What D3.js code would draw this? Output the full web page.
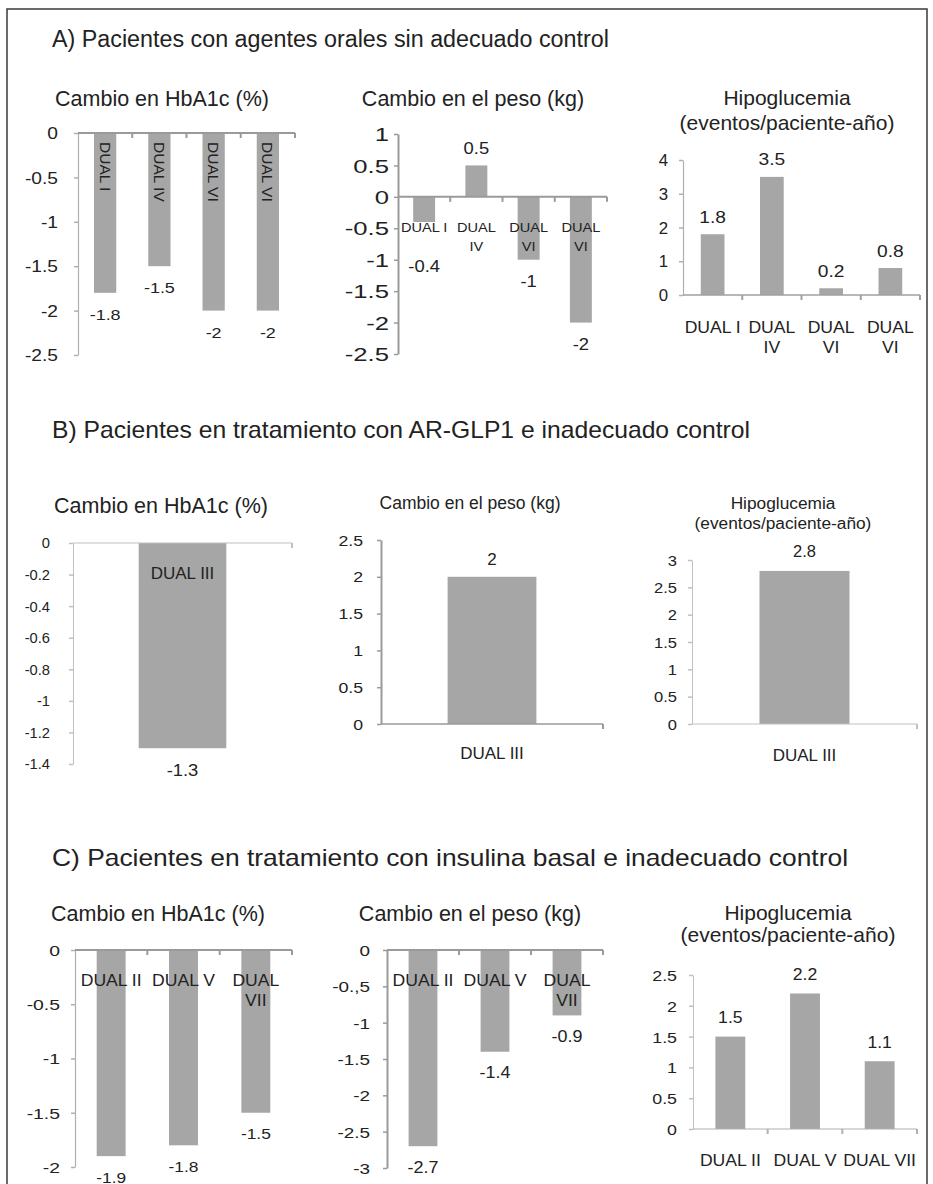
<!DOCTYPE html>
<html>
<head>
<meta charset="utf-8">
<script src="https://cdn.jsdelivr.net/npm/d3@7"></script>
<style>
  html, body { margin: 0; padding: 0; background: #ffffff; }
  svg { display: block; }
  text { font-family: "Liberation Sans", Arial, Helvetica, sans-serif; fill: #222222; }
</style>
</head>
<body>
<svg id="chart" width="933" height="1184"></svg>
<script>
// ---------------- DATA ----------------
const sectionTitles = [
  "A) Pacientes con agentes orales sin adecuado control",
  "B) Pacientes en tratamiento con AR-GLP1 e inadecuado control",
  "C) Pacientes en tratamiento con insulina basal e inadecuado control"
];
const titleHbA1c = ["Cambio en HbA1c (%)"];
const titlePeso = ["Cambio en el peso (kg)"];
const titleHipo = ["Hipoglucemia", "(eventos/paciente-año)"];

const catsA = ["DUAL I", "DUAL IV", "DUAL VI", "DUAL VI"];
const hba1cA = [-1.8, -1.5, -2, -2];
const pesoA = [-0.4, 0.5, -1, -2];
const hipoA = [1.8, 3.5, 0.2, 0.8];

const catsB = ["DUAL III"];
const hba1cB = [-1.3];
const pesoB = [2];
const hipoB = [2.8];

const catsC = ["DUAL II", "DUAL V", "DUAL VII"];
const hba1cC = [-1.9, -1.8, -1.5];
const pesoC = [-2.7, -1.4, -0.9];
const hipoC = [1.5, 2.2, 1.1];

const ticksA1 = [0, -0.5, -1, -1.5, -2, -2.5];
const ticksA2 = [1, 0.5, 0, -0.5, -1, -1.5, -2, -2.5];
const ticksA3 = [4, 3, 2, 1, 0];
const ticksB1 = [0, -0.2, -0.4, -0.6, -0.8, -1, -1.2, -1.4];
const ticksB2 = [2.5, 2, 1.5, 1, 0.5, 0];
const ticksB3 = [3, 2.5, 2, 1.5, 1, 0.5, 0];
const ticksC1 = [0, -0.5, -1, -1.5, -2];
const ticksC2 = [0, -0.5, -1, -1.5, -2, -2.5, -3];
const tickLabelsC2 = ["0", "-0.,5", "-1", "-1.5", "-2", "-2.5", "-3"];
const ticksC3 = [2.5, 2, 1.5, 1, 0.5, 0];

// ---------------- LAYOUT ----------------
const BAR = "#a6a6a6";
const svg = d3.select("#chart");

svg.append("rect").attr("x", 7).attr("y", 9).attr("width", 920).attr("height", 1200)
  .attr("fill", "none").attr("stroke", "#3a3a3a").attr("stroke-width", 1.5);

// [x, baseline, font size, target width]
const secPos = [[52, 47, 23.3, 0], [52, 438, 24, 698], [52, 866, 24, 796]];
sectionTitles.forEach((t, i) => {
  const s = svg.append("text").attr("x", secPos[i][0]).attr("y", secPos[i][1])
    .style("font-size", secPos[i][2] + "px").text(t);
  if (secPos[i][3]) s.attr("textLength", secPos[i][3]).attr("lengthAdjust", "spacingAndGlyphs");
});

const panels = [
  { title: titleHbA1c, tx: 162, ty: 98, ts: 21.5, cats: catsA, vals: hba1cA,
    x0: 78, x1: 295, yr: [133, 355], dom: [0, -2.5], ticks: ticksA1,
    tfs: 16, tsx: 1.2, tg: 20, yw: 1.2, yc: "#b0b0b0", xw: 2, xc: "#9a9a9a",
    pad: 0.59, catMode: "rotated", cfs: 15.5, csx: 1.0,
    vfs: 15, vsx: 1.2, vAbove: 17, vBelow: 22, minNeg: 0 },
  { title: titlePeso, tx: 473, ty: 98, ts: 21.5, cats: catsA, vals: pesoA,
    x0: 398, x1: 607, yr: [134, 354], dom: [1, -2.5], ticks: ticksA2,
    tfs: 19, tsx: 1.35, tg: 9, yw: 2, yc: "#9a9a9a", xw: 2, xc: "#9a9a9a",
    pad: 0.58, catMode: "h", catOff: 30, lineH: 19, wrapW: 50, cfs: 13.5, csx: 1.08,
    vfs: 16, vsx: 1.15, vAbove: 17, vBelow: 22, minNeg: 70 },
  { title: titleHipo, tx: 787, ty: 98, ts: 21, cats: catsA, vals: hipoA,
    x0: 683, x1: 920, yr: [160, 295], dom: [4, 0], ticks: ticksA3,
    tfs: 16, tsx: 1.05, tg: 15, yw: 1.2, yc: "#b0b0b0", xw: 1.5, xc: "#a0a0a0",
    pad: 0.6, catMode: "h", catOff: 32, lineH: 20, wrapW: 62, cfs: 16, csx: 1.1,
    vfs: 16, vsx: 1.2, vAbove: 17, vBelow: 22, minNeg: 0 },
  { title: titleHbA1c, tx: 161, ty: 505, ts: 21.5, cats: catsB, vals: hba1cB,
    x0: 73, x1: 292, yr: [543, 764], dom: [0, -1.4], ticks: ticksB1,
    tfs: 14, tsx: 1.05, tg: 23, yw: 1, yc: "#c0c0c0", xw: 1.2, xc: "#c0c0c0",
    pad: 0.6, catMode: "h", catOff: 30, lineH: 20, wrapW: 200, cfs: 17, csx: 1.0,
    vfs: 16, vsx: 1.15, vAbove: 17, vBelow: 22, minNeg: 0 },
  { title: titlePeso, tx: 470, ty: 503, ts: 17.5, cats: catsB, vals: pesoB,
    x0: 381, x1: 603, yr: [540, 724], dom: [2.5, 0], ticks: ticksB2,
    tfs: 14.5, tsx: 1.22, tg: 18, yw: 2, yc: "#9a9a9a", xw: 1.5, xc: "#9a9a9a",
    pad: 0.6, catMode: "h", catOff: 29, lineH: 20, wrapW: 200, cfs: 17, csx: 1.0,
    vfs: 17, vsx: 1.0, vAbove: 18, vBelow: 22, minNeg: 0 },
  { title: titleHipo, tx: 783, ty: 503, ts: 17.3, lh: 20, cats: catsB, vals: hipoB,
    x0: 692, x1: 917, yr: [560, 724], dom: [3, 0], ticks: ticksB3,
    tfs: 15, tsx: 1.1, tg: 15, yw: 1, yc: "#c0c0c0", xw: 1, xc: "#c0c0c0",
    pad: 0.6, catMode: "h", catOff: 31, lineH: 20, wrapW: 200, cfs: 17, csx: 1.0,
    vfs: 16.5, vsx: 1.0, vAbove: 20, vBelow: 22, minNeg: 0 },
  { title: titleHbA1c, tx: 158, ty: 913, ts: 21.5, cats: catsC, vals: hba1cC,
    x0: 75, x1: 292, yr: [950, 1167], dom: [0, -2], ticks: ticksC1,
    tfs: 15.5, tsx: 1.25, tg: 15, yw: 1.2, yc: "#b0b0b0", xw: 2, xc: "#9a9a9a",
    pad: 0.6, catMode: "h", catOff: 30, lineH: 20, wrapW: 66, cfs: 16, csx: 1.1,
    vfs: 15.5, vsx: 1.12, vAbove: 17, vBelow: 21, minNeg: 0 },
  { title: titlePeso, tx: 470, ty: 913, ts: 21.5, cats: catsC, vals: pesoC,
    x0: 387, x1: 603, yr: [950, 1168], dom: [0, -3], ticks: ticksC2, tickLabels: tickLabelsC2,
    tfs: 15.5, tsx: 1.22, tg: 17, yw: 2, yc: "#9a9a9a", xw: 2, xc: "#9a9a9a",
    pad: 0.6, catMode: "h", catOff: 30, lineH: 20, wrapW: 66, cfs: 16, csx: 1.1,
    vfs: 16, vsx: 1.12, vAbove: 17, vBelow: 21, minNeg: 0 },
  { title: titleHipo, tx: 788, ty: 913, ts: 21, lh: 22, cats: catsC, vals: hipoC,
    x0: 693, x1: 917, yr: [975, 1129], dom: [2.5, 0], ticks: ticksC3,
    tfs: 15.5, tsx: 1.15, tg: 16, yw: 1, yc: "#c0c0c0", xw: 1.2, xc: "#b0b0b0",
    pad: 0.6, catMode: "h", catOff: 31, lineH: 20, wrapW: 100, cfs: 16, csx: 1.1,
    vfs: 16, vsx: 1.1, vAbove: 19, vBelow: 21, minNeg: 0 }
];

function stretchText(g, str, x, y, size, sx, anchor) {
  return g.append("text")
    .attr("transform", `translate(${x},${y}) scale(${sx},1)`)
    .attr("text-anchor", anchor || "middle")
    .attr("dy", "0.35em")
    .style("font-size", size + "px")
    .text(str);
}

const fmt = v => String(v);

panels.forEach(p => {
  const g = svg.append("g");

  // title
  p.title.forEach((t, i) => {
    g.append("text").attr("x", p.tx).attr("y", p.ty + i * (p.lh || 25))
      .attr("dy", "0.35em").attr("text-anchor", "middle")
      .style("font-size", p.ts + "px").text(t);
  });

  const y = d3.scaleLinear().domain(p.dom).range(p.yr);
  const x = d3.scaleBand().domain(d3.range(p.cats.length)).range([p.x0, p.x1])
    .paddingInner(p.pad).paddingOuter(p.pad / 2);
  const y0 = y(0);

  // bars
  g.selectAll("rect.bar").data(p.vals).join("rect").attr("class", "bar")
    .attr("x", (d, i) => x(i)).attr("width", x.bandwidth())
    .attr("y", d => y(Math.max(0, d)))
    .attr("height", d => Math.abs(y(d) - y0))
    .attr("fill", BAR);

  // y axis
  const ax = d3.axisLeft(y).tickValues(p.ticks).tickSize(4).tickSizeOuter(0)
    .tickFormat((d, i) => p.tickLabels ? p.tickLabels[i] : fmt(d));
  const ag = g.append("g").attr("transform", `translate(${p.x0},0)`).call(ax);
  ag.select(".domain").attr("stroke", p.yc).attr("stroke-width", p.yw);
  ag.selectAll(".tick line").attr("stroke", p.yc).attr("stroke-width", 1.5);
  ag.selectAll(".tick text")
    .attr("x", 0).attr("dy", "0.35em")
    .attr("transform", `translate(${-p.tg},0) scale(${p.tsx},1)`)
    .attr("fill", "#222222")
    .style("font-size", p.tfs + "px")
    .style("font-family", '"Liberation Sans", Arial, sans-serif');

  // x axis line and boundary ticks
  g.append("line").attr("x1", p.x0).attr("x2", p.x1).attr("y1", y0).attr("y2", y0)
    .attr("stroke", p.xc).attr("stroke-width", p.xw);
  const n = p.cats.length;
  const step = (p.x1 - p.x0) / n;
  g.selectAll("line.xt").data(d3.range(1, n + 1)).join("line").attr("class", "xt")
    .attr("x1", i => p.x0 + i * step).attr("x2", i => p.x0 + i * step)
    .attr("y1", y0).attr("y2", y0 + 5)
    .attr("stroke", p.xc).attr("stroke-width", 2);

  // category labels
  p.cats.forEach((c, i) => {
    const cx = x(i) + x.bandwidth() / 2;
    if (p.catMode === "rotated") {
      g.append("text")
        .attr("transform", `translate(${cx},${y0 + 9}) rotate(90)`)
        .attr("text-anchor", "start").attr("dy", "0.35em")
        .style("font-size", p.cfs + "px").text(c);
    } else {
      const tmp = g.append("text").style("font-size", p.cfs + "px").text(c);
      const w = tmp.node().getComputedTextLength() * p.csx;
      tmp.remove();
      let lines = [c];
      if (w > p.wrapW) {
        const words = c.split(" ");
        lines = [words[0], words.slice(1).join(" ")];
      }
      lines.forEach((l, k) => {
        stretchText(g, l, cx, y0 + p.catOff + k * p.lineH, p.cfs, p.csx, "middle");
      });
    }
  });

  // value labels
  p.vals.forEach((v, i) => {
    const cx = x(i) + x.bandwidth() / 2;
    let ly;
    if (v >= 0) ly = y(v) - p.vAbove;
    else ly = Math.max(y(v) + p.vBelow, y0 + p.minNeg);
    stretchText(g, fmt(v), cx, ly, p.vfs, p.vsx, "middle");
  });
});
</script>
</body>
</html>
